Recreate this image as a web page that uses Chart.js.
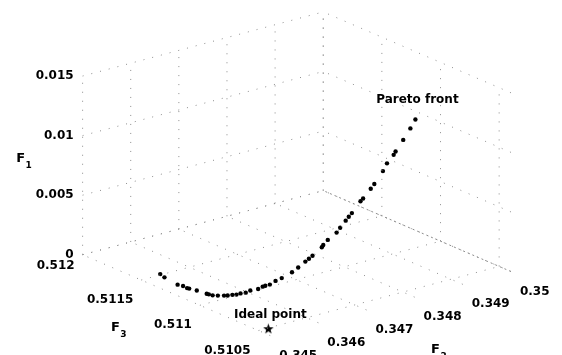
<!DOCTYPE html>
<html>
<head>
<meta charset="utf-8">
<script src="https://cdn.jsdelivr.net/npm/chart.js@4.4.1/dist/chart.umd.min.js"></script>
<style>
  html, body { margin: 0; padding: 0; background: #fff; }
  #wrap { width: 562px; height: 355px; }
</style>
</head>
<body>
<div id="wrap"><canvas id="chart" width="562" height="355"></canvas></div>
<script>
// Pareto front, one entry per point
const frontF2 = [0.34520, 0.34519, 0.34522, 0.34526, 0.34527, 0.34529, 0.34535, 0.34541, 0.34543, 0.34546,
  0.34552, 0.34560, 0.34565, 0.34570, 0.34576, 0.34582, 0.34588, 0.34595, 0.34604, 0.34611,
  0.34614, 0.34621, 0.34628, 0.34636, 0.34650, 0.34658, 0.34668, 0.34673, 0.34678, 0.34690,
  0.34693, 0.34700, 0.34711, 0.34716, 0.34725, 0.34729, 0.34733, 0.34746, 0.34749, 0.34760,
  0.34765, 0.34778, 0.34784, 0.34793, 0.34797, 0.34808, 0.34818, 0.34826];
const frontF3 = [0.51142, 0.51138, 0.51128, 0.51125, 0.51122, 0.51121, 0.51117, 0.51111, 0.51110, 0.51108,
  0.51106, 0.51104, 0.51103, 0.51101, 0.51100, 0.51099, 0.51097, 0.51096, 0.51093, 0.51092,
  0.51091, 0.51090, 0.51088, 0.51086, 0.51083, 0.51081, 0.51079, 0.51078, 0.51077, 0.51074,
  0.51074, 0.51073, 0.51070, 0.51069, 0.51068, 0.51067, 0.51066, 0.51064, 0.51063, 0.51061,
  0.51060, 0.51058, 0.51057, 0.51055, 0.51055, 0.51053, 0.51051, 0.51050];
const frontF1 = [0.00062, 0.00053, 0.00031, 0.00028, 0.00022, 0.00020, 0.00014, 0.00006, 0.00003, 0,
  0, 0, 0, 0.00008, 0.00008, 0.00016, 0.00024, 0.00039, 0.00055, 0.00071,
  0.00079, 0.00086, 0.00118, 0.00141, 0.00188, 0.00228, 0.00275, 0.00298, 0.00322, 0.00393,
  0.00408, 0.00448, 0.00510, 0.00550, 0.00604, 0.00636, 0.00667, 0.00761, 0.00785, 0.00864,
  0.00903, 0.01005, 0.01068, 0.01138, 0.01162, 0.01256, 0.01350, 0.01421];

// ideal point
const idealF2 = [0.34518];
const idealF3 = [0.51049];
const idealF1 = [0];

// axes
const f1Ticks = [0, 0.005, 0.01, 0.015];
const f2Ticks = [0.345, 0.346, 0.347, 0.348, 0.349, 0.35];
const f3Ticks = [0.5105, 0.511, 0.5115, 0.512];
const f1Lim = [0, 0.015];
const f2Lim = [0.345, 0.35];
const f3Lim = [0.5104, 0.512];

// fixed 3d view (orthographic), in canvas units
const view = { ox: 79, oy: 257, f2x: 49000, f2y: -13200, f3x: -119400, f3y: -52000, f1y: -12260 };

function proj(a2, a3, a1) {
  const d2 = a2 - f2Lim[0], d3 = a3 - f3Lim[1];
  return {
    x: view.ox + d2 * view.f2x + d3 * view.f3x,
    y: view.oy + d2 * view.f2y + d3 * view.f3y + a1 * view.f1y
  };
}

// grid lines on floor and the two back walls
const gridSegs = [];
f2Ticks.forEach(t => gridSegs.push([proj(t, f3Lim[0], 0), proj(t, f3Lim[1], 0)]));
f3Ticks.forEach(t => gridSegs.push([proj(f2Lim[0], t, 0), proj(f2Lim[1], t, 0)]));
f2Ticks.forEach(t => gridSegs.push([proj(t, f3Lim[1], f1Lim[0]), proj(t, f3Lim[1], f1Lim[1])]));
f1Ticks.forEach(t => gridSegs.push([proj(f2Lim[0], f3Lim[1], t), proj(f2Lim[1], f3Lim[1], t)]));
f3Ticks.forEach(t => gridSegs.push([proj(f2Lim[1], t, f1Lim[0]), proj(f2Lim[1], t, f1Lim[1])]));
f1Ticks.forEach(t => gridSegs.push([proj(f2Lim[1], f3Lim[0], t), proj(f2Lim[1], f3Lim[1], t)]));

const gridSets = gridSegs.map((seg, i) => ({
  type: "line",
  data: seg,
  showLine: true,
  borderColor: "#8c8c8c",
  borderWidth: 1,
  // the floor line along the F2 = max edge shows up denser
  borderDash: i === f2Ticks.length - 1 ? [2, 3] : [1, 8],
  pointRadius: 0,
  fill: false,
}));

// filled pentagram marker
const star = document.createElement("canvas");
star.width = 11; star.height = 11;
(function () {
  const s = star.getContext("2d");
  s.beginPath();
  for (let i = 0; i < 10; i++) {
    const r = i % 2 === 0 ? 5.5 : 2.3;
    const a = -Math.PI / 2 + i * Math.PI / 5;
    s.lineTo(5.5 + r * Math.cos(a), 5.8 + r * Math.sin(a));
  }
  s.closePath();
  s.fillStyle = "#000";
  s.fill();
})();

const frontPts = frontF2.map((v, i) => proj(v, frontF3[i], frontF1[i]));
const idealPts = idealF2.map((v, i) => proj(v, idealF3[i], idealF1[i]));

const FONT = '"DejaVu Sans", "Liberation Sans", Arial, sans-serif';

const labels3d = {
  id: "labels3d",
  afterDatasetsDraw(chart) {
    const ctx = chart.ctx;
    const sx = chart.scales.x, sy = chart.scales.y;
    const px = p => ({ x: sx.getPixelForValue(p.x), y: sy.getPixelForValue(p.y) });
    ctx.save();
    ctx.fillStyle = "#000";
    ctx.font = "bold 12px " + FONT;
    ctx.textBaseline = "middle";

    ctx.textAlign = "right";
    f1Ticks.forEach(t => {
      const p = px(proj(f2Lim[0], f3Lim[1], t));
      ctx.fillText(String(t), p.x - 9, p.y);
    });
    f3Ticks.forEach(t => {
      const p = px(proj(f2Lim[0], t, 0));
      // the top one is pulled up next to the "0" of F1
      ctx.fillText(String(t), p.x - 8, p.y + (t === f3Lim[1] ? 11 : 20));
    });
    ctx.textAlign = "left";
    f2Ticks.forEach(t => {
      const p = px(proj(t, f3Lim[0], 0));
      ctx.fillText(String(t), p.x + 9, p.y + 20);
    });

    // axis titles
    const title = (sub, p) => {
      ctx.textAlign = "center";
      ctx.font = "bold 13px " + FONT;
      ctx.fillText("F", p.x, p.y);
      ctx.font = "bold 9px " + FONT;
      ctx.fillText(sub, p.x + 8, p.y + 7);
    };
    let m = px(proj(f2Lim[0], f3Lim[1], (f1Lim[0] + f1Lim[1]) / 2));
    title("1", { x: m.x - 62, y: m.y - 7 });
    m = px(proj(f2Lim[0], (f3Lim[0] + f3Lim[1]) / 2, 0));
    title("3", { x: m.x - 61, y: m.y + 32 });
    m = px(proj((f2Lim[0] + f2Lim[1]) / 2, f3Lim[0], 0));
    title("2", { x: m.x + 45, y: m.y + 46 });

    // annotations
    ctx.font = "bold 12px " + FONT;
    ctx.textAlign = "center";
    const last = px(frontPts[frontPts.length - 1]);
    ctx.fillText("Pareto front", last.x + 2, last.y - 20);
    const ip = px(idealPts[0]);
    ctx.fillText("Ideal point", ip.x + 2, ip.y - 14);
    ctx.restore();
  }
};

new Chart(document.getElementById("chart"), {
  type: "scatter",
  data: {
    datasets: [
      ...gridSets,
      {
        label: "Pareto front",
        data: frontPts,
        pointRadius: 2.2,
        pointBackgroundColor: "#000",
        pointBorderWidth: 0,
      },
      {
        label: "Ideal point",
        data: idealPts,
        pointStyle: star,
      },
    ],
  },
  options: {
    responsive: false,
    devicePixelRatio: 1,
    animation: false,
    layout: { padding: 0 },
    plugins: { legend: { display: false }, tooltip: { enabled: false } },
    scales: {
      x: { type: "linear", min: 0, max: 562, display: false },
      y: { type: "linear", min: 0, max: 355, reverse: true, display: false },
    },
  },
  plugins: [labels3d],
});
</script>
</body>
</html>
